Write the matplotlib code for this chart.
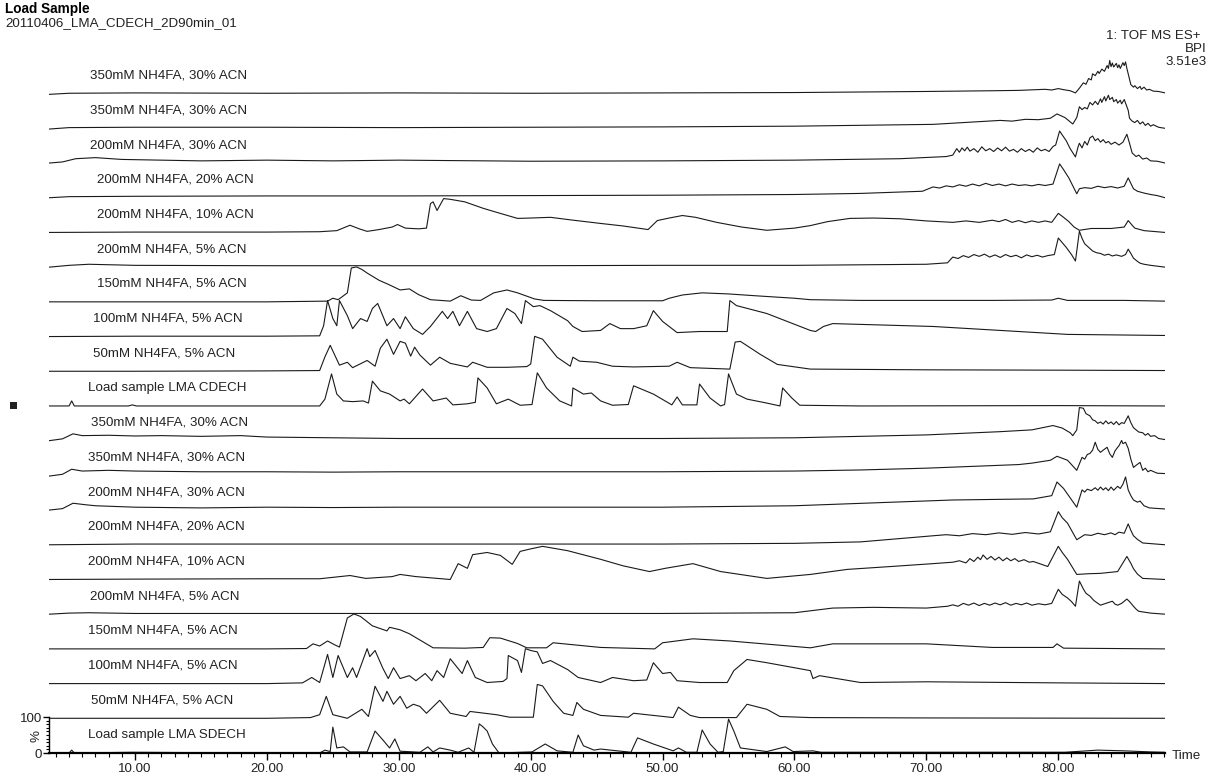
import matplotlib
matplotlib.use("Agg")
from matplotlib import pyplot as plt
from matplotlib.patches import Rectangle
import numpy as np

plt.rcParams['font.family'] = ['Liberation Sans', 'DejaVu Sans']

# ---- data: (time [min], relative intensity [%]) ----
labels = [
    "350mM NH4FA, 30% ACN", "350mM NH4FA, 30% ACN", "200mM NH4FA, 30% ACN",
    "200mM NH4FA, 20% ACN", "200mM NH4FA, 10% ACN", "200mM NH4FA, 5% ACN",
    "150mM NH4FA, 5% ACN", "100mM NH4FA, 5% ACN", "50mM NH4FA, 5% ACN",
    "Load sample LMA CDECH",
    "350mM NH4FA, 30% ACN", "350mM NH4FA, 30% ACN", "200mM NH4FA, 30% ACN",
    "200mM NH4FA, 20% ACN", "200mM NH4FA, 10% ACN", "200mM NH4FA, 5% ACN",
    "150mM NH4FA, 5% ACN", "100mM NH4FA, 5% ACN", "50mM NH4FA, 5% ACN",
    "Load sample LMA SDECH",
]

trace_01 = [(3.5,-2),(5,1),(10,2),(20,1),(30,2),(40,1),(50,2),(60,3),(70,6),(75,8),(77,9),(79.0,12),
            (79.5,10),(80,14),(80.4,11),(80.9,8),(81.3,2),(81.6,15),(81.9,30),(82.1,26),(82.3,42),
            (82.5,38),(82.6,55),(82.8,50),(83.0,62),(83.1,56),(83.3,68),(83.5,62),(83.7,78),(83.8,70),
            (83.9,92),(84.0,75),(84.1,85),(84.2,74),(84.4,84),(84.5,72),(84.6,80),(84.7,70),(84.9,86),
            (85.0,78),(85.1,88),(85.2,70),(85.4,40),(85.5,25),(85.7,18),(85.8,22),(86.0,14),(86.2,20),
            (86.3,12),(86.5,18),(86.7,10),(86.9,12),(87.2,7),(87.6,6),(88.1,2)]
trace_02 = [(3.5,-2),(5,2),(10,3),(20,3),(30,2),(40,3),(50,4),(60,6),(70.5,11),(75.6,22),(76.5,20),
            (77.5,25),(78.5,24),(79.4,28),(79.9,40),(80.5,30),(81.1,12),(81.4,30),(81.6,60),(81.8,52),
            (82.0,58),(82.2,54),(82.4,72),(82.6,65),(82.8,75),(83.0,66),(83.2,82),(83.3,72),(83.5,88),
            (83.6,76),(83.8,92),(83.9,80),(84.1,86),(84.2,74),(84.4,80),(84.5,70),(84.7,78),(84.8,68),
            (85.0,80),(85.1,70),(85.3,50),(85.4,28),(85.6,20),(85.8,16),(86.0,22),(86.2,12),(86.4,18),
            (86.6,8),(86.8,14),(87.0,6),(87.2,10),(87.6,3),(88.1,0)]
trace_03 = [(3.5,0),(4.5,3),(5.5,12),(7,15),(9,10),(12,8),(15,6),(20,8),(25,6),(30,8),(40,5),(50,6),
            (60,8),(68,12),(71.5,18),(72.0,22),(72.3,40),(72.5,30),(72.7,42),(72.9,34),(73.1,44),
            (73.3,33),(73.6,40),(73.9,30),(74.2,45),(74.5,34),(74.8,40),(75.1,32),(75.4,42),(75.7,34),
            (76.0,44),(76.3,33),(76.6,38),(76.9,30),(77.2,40),(77.5,32),(77.8,38),(78.1,30),(78.4,42),
            (78.7,34),(79.0,38),(79.3,32),(79.6,46),(79.8,50),(80.1,89),(80.3,78),(80.6,62),(80.9,40),
            (81.3,17),(81.5,45),(81.6,55),(81.8,42),(82.0,60),(82.2,50),(82.4,70),(82.6,75),(82.8,62),
            (83.0,68),(83.2,58),(83.4,65),(83.6,56),(83.8,60),(84.0,52),(84.3,58),(84.6,50),(84.9,58),
            (85.2,80),(85.4,55),(85.6,28),(85.9,18),(86.1,22),(86.4,11),(86.7,14),(87,6),(87.5,5),
            (88.1,0)]
trace_04 = [(3.5,0),(5,3),(10,4),(20,5),(30,5),(40,6),(50,7),(60,9),(65,12),(69.7,18),(70.5,30),
            (71,27),(71.5,33),(72,30),(72.5,36),(73,32),(73.5,38),(74,33),(74.5,40),(75,34),(75.5,38),
            (76,33),(76.5,38),(77,34),(77.5,36),(78,33),(78.5,37),(79,34),(79.6,38),(80.1,94),
            (80.4,78),(80.8,55),(81.4,11),(81.6,25),(82,28),(82.5,26),(83,32),(83.5,28),(84,31),
            (84.5,27),(85,32),(85.3,55),(85.5,40),(85.7,25),(86.0,18),(86.5,13),(87,9),(87.5,6),
            (88.1,0)]
trace_05 = [(3.5,0),(10,1),(20,1),(24,2),(25.3,5),(26.3,20),(27,10),(27.6,3),(28.5,8),(29.5,15),
            (29.9,22),(30.5,12),(31.5,10),(32.1,12),(32.4,80),(32.6,85),(32.9,61),(33.4,94),(33.9,92),
            (35,85),(36.4,67),(37.5,55),(39.0,39),(40,40),(41.5,42),(43,35),(45.3,25),(47,18),(48.9,8),
            (49.6,33),(50.5,40),(51.5,47),(52.5,42),(54.1,28),(56,15),(57.9,6),(60,12),(61.2,19),
            (62.5,30),(64.2,39),(66,40),(68,38),(70,32),(72,28),(73,32),(74,28),(75,34),(75.5,30),
            (76,36),(76.5,28),(77,33),(77.5,27),(78,32),(78.5,28),(79,32),(79.5,28),(80,53),(80.4,42),
            (80.8,30),(81.2,15),(81.6,6),(82.5,11),(84,11),(85,15),(85.3,33),(85.6,20),(85.8,12),
            (86.5,5),(88.1,0)]
trace_06 = [(3.5,0),(5,5),(6.5,8),(10,5),(20,4),(30,4),(40,4),(50,5),(60,5),(70,8),(71.6,12),(72,28),
            (72.4,24),(72.8,32),(73.2,27),(73.6,35),(74,30),(74.4,36),(74.8,28),(75.2,34),(75.6,27),
            (76,35),(76.4,29),(76.8,33),(77.2,26),(77.6,34),(78,29),(78.4,33),(78.8,28),(79.2,32),
            (79.7,35),(80,81),(80.3,68),(80.6,55),(81.0,35),(81.3,17),(81.6,100),(81.8,80),(82.0,65),
            (82.3,55),(82.6,45),(82.9,40),(83.2,38),(83.5,33),(83.8,36),(84.1,31),(84.4,34),(84.8,30),
            (85.1,35),(85.3,50),(85.5,38),(85.7,25),(86.0,16),(86.2,11),(86.5,8),(87,5),(88.1,0)]
trace_07 = [(3.5,0),(10,0),(20,0),(24.6,2),(25,10),(25.4,6),(25.7,14),(26.1,25),(26.4,94),(26.8,97),
            (27.2,90),(27.6,80),(28.5,60),(29.3,47),(30.1,33),(30.8,36),(31.5,20),(32.4,6),(33.9,2),
            (34.7,17),(35.5,5),(36.2,4),(37.2,25),(38.2,33),(39.0,25),(40.3,8),(41,4),(45,3),(50,3),
            (50.5,10),(51.5,19),(53.0,25),(55,22),(57,17),(60,10),(61.2,6),(65,4),(70,4),(75,4),
            (79.5,5),(80,10),(80.7,4),(85,4),(88.1,2)]
trace_08 = [(3.5,0),(10,1),(20,1),(24.0,2),(24.3,30),(24.6,100),(25.0,50),(25.3,30),(25.5,100),
            (26.1,58),(26.5,22),(27.1,50),(27.6,42),(28.0,78),(28.4,92),(29.1,30),(29.6,50),(30.1,22),
            (30.5,55),(31.1,22),(31.8,6),(32.4,28),(33.3,70),(33.7,50),(34.1,70),(34.6,30),(35.2,70),
            (35.9,22),(36.7,14),(37.4,22),(38.2,78),(38.8,64),(39.3,36),(39.6,100),(40.2,83),(40.7,86),
            (41.5,72),(42.8,44),(43.2,28),(43.9,14),(45.3,17),(46.0,36),(46.8,22),(47.8,22),(48.8,30),
            (49.3,72),(50.0,42),(51.1,11),(52.8,14),(54.9,14),(55.1,100),(55.6,86),(57.9,64),(61.2,17),
            (61.6,14),(62.2,28),(62.9,36),(70.5,28),(80.7,6),(88.1,3)]
trace_09 = [(3.5,0),(10,0),(20,1),(24.0,2),(24.4,40),(24.8,72),(25.5,17),(26.1,25),(26.5,10),
            (27.6,30),(28.2,14),(28.6,64),(29.1,89),(29.6,47),(30.1,83),(30.5,78),(30.9,42),(31.2,67),
            (31.6,45),(32.4,17),(33.1,39),(33.9,22),(35.2,12),(35.6,25),(36.7,11),(38.2,11),(39.7,13),
            (40.0,20),(40.3,97),(40.9,89),(42.0,39),(43.0,14),(43.2,39),(43.7,28),(45.0,25),(46.2,14),
            (47.8,12),(50.5,14),(51.1,25),(52.1,10),(55.1,6),(55.5,81),(55.9,83),(57.4,47),(58.7,19),
            (61.2,6),(70,4),(80,3),(88.1,2)]
trace_10 = [(3.5,0),(5.0,0),(5.2,14),(5.4,0),(9.5,0),(9.8,3),(10.1,0),(20,0),(24.0,0),(24.4,19),
            (24.9,89),(25.3,33),(25.8,14),(26.5,12),(27.3,14),(27.7,8),(28.0,69),(28.6,42),(29.3,33),
            (30.1,14),(30.4,19),(30.8,6),(31.8,47),(32.6,14),(33.6,22),(34.1,3),(35.2,6),(35.8,10),
            (36.0,78),(36.7,50),(37.4,6),(38.3,19),(39.2,2),(40.1,4),(40.5,92),(41.2,50),(42.2,14),
            (43.1,0),(43.2,50),(44.0,33),(44.6,36),(45.3,14),(46.2,2),(47.4,4),(47.8,56),(49.3,33),
            (50.7,3),(51.1,25),(51.5,3),(52.6,3),(52.8,61),(53.6,22),(54.4,0),(54.7,4),(55.0,89),
            (55.6,33),(56.4,19),(57.9,8),(58.9,0),(59.1,50),(59.8,22),(60.4,2),(65,0),(80,1),(88.1,0)]
trace_11 = [(3.5,0),(4.5,5),(5.3,19),(6,14),(8,15),(10,13),(12,14),(15,12),(18,14),(20,10),(25,8),
            (30,6),(40,6),(50,6),(60,8),(65,12),(70,16),(75.6,25),(78,30),(79.6,42),(80.3,35),
            (80.9,22),(81.1,14),(81.4,30),(81.6,92),(81.9,90),(82.1,75),(82.4,69),(82.6,58),(82.8,55),
            (83.0,48),(83.2,52),(83.4,46),(83.6,55),(83.8,47),(84.0,52),(84.2,45),(84.4,53),(84.6,44),
            (84.8,50),(85.0,48),(85.3,69),(85.5,50),(85.7,36),(85.9,30),(86.1,24),(86.4,22),(86.6,15),
            (86.8,20),(87.0,12),(87.3,14),(87.6,6),(88.1,3)]
trace_12 = [(3.5,-2),(4.5,3),(5.2,17),(6,12),(8,14),(10,12),(15,10),(20,10),(25,9),(30,10),(40,10),
            (50,10),(60,12),(65,15),(70,20),(75.6,28),(77,30),(78,34),(79.4,42),(79.9,53),(80.7,42),
            (81.4,14),(81.8,50),(82.0,45),(82.2,58),(82.4,61),(82.6,70),(82.8,92),(83.0,72),(83.2,64),
            (83.4,70),(83.7,78),(83.9,60),(84.1,50),(84.3,68),(84.5,78),(84.6,82),(84.8,97),(84.9,88),
            (85.1,92),(85.3,75),(85.5,45),(85.7,22),(85.9,28),(86.2,36),(86.4,14),(86.6,20),(86.8,10),
            (87,14),(87.5,6),(88.1,5)]
trace_13 = [(3.5,0),(4.5,4),(5.3,19),(6.2,15),(7,12),(10,8),(15,6),(20,8),(25,7),(30,8),(40,8),
            (50,8),(60,12),(66,20),(72,28),(76,30),(78.1,31),(79.5,40),(79.9,78),(80.4,60),(81.4,8),
            (81.8,56),(82.0,50),(82.2,58),(82.5,54),(82.8,62),(83.0,55),(83.2,64),(83.4,56),(83.6,62),
            (83.8,54),(84.0,64),(84.2,55),(84.5,66),(84.7,60),(84.9,72),(85.1,92),(85.3,56),(85.5,40),
            (85.7,28),(86.0,22),(86.2,25),(86.5,12),(86.9,6),(88.1,3)]
trace_14 = [(3.5,0),(10,2),(20,2),(30,2),(40,2),(50,2),(60,4),(65,8),(70.5,25),(71.5,28),(72.5,25),
            (73.5,31),(74.5,28),(75.5,33),(76.5,29),(77.5,34),(78.5,30),(79.4,36),(80,92),(80.3,75),
            (80.7,60),(81.4,14),(82,28),(82.5,26),(83,32),(83.5,28),(84,33),(84.3,28),(84.6,35),
            (85.0,32),(85.3,58),(85.5,40),(85.7,25),(86.0,15),(86.4,5),(88.1,0)]
trace_15 = [(3.5,0),(10,1),(20,2),(24,2),(26.3,11),(27.5,3),(29.5,8),(30.1,14),(31.3,8),(33.9,0),
            (34.5,44),(35.2,31),(35.6,69),(36.7,75),(37.7,67),(38.6,42),(39.2,78),(40,85),(40.9,92),
            (42.8,80),(45.3,56),(47,38),(49.0,22),(50.2,31),(52.3,44),(54.4,22),(57.9,3),(61.2,14),
            (64,28),(67.3,36),(70.5,44),(72,48),(72.5,52),(73,46),(73.3,58),(73.6,50),(73.9,62),
            (74.1,55),(74.3,68),(74.6,56),(74.9,64),(75.2,54),(75.5,62),(75.8,52),(76.1,60),(76.4,52),
            (76.7,58),(77,50),(77.4,55),(77.8,48),(78.1,50),(78.5,45),(79.2,36),(80,92),(80.3,75),
            (80.7,56),(81.4,14),(82.3,16),(83.2,17),(84.5,22),(85.2,64),(85.5,45),(85.7,30),(86.0,15),
            (86.4,3),(88.1,0)]
trace_16 = [(3.5,0),(5,3),(6.5,4),(10,2),(20,2),(30,2),(40,2),(50,2),(60,4),(62.9,17),(66,19),
            (70,17),(71.6,22),(72,26),(72.4,22),(72.8,30),(73.2,25),(73.6,31),(74,24),(74.4,30),
            (74.8,25),(75.2,31),(75.6,26),(76,32),(76.4,25),(76.8,30),(77.2,26),(77.6,31),(78,25),
            (78.5,29),(79,26),(79.5,30),(80,69),(80.3,55),(80.7,45),(81.0,35),(81.3,22),(81.6,92),
            (81.9,70),(82.1,58),(82.4,50),(82.7,38),(83.0,30),(83.2,25),(83.6,30),(84.1,36),(84.3,28),
            (84.5,25),(84.8,30),(85.2,42),(85.4,35),(85.7,22),(85.9,14),(86.1,8),(87,3),(88.1,0)]
trace_17 = [(3.5,0),(10,0),(20,0),(23.0,1),(23.5,14),(24.0,8),(24.6,22),(25.1,12),(25.5,5),
            (26.1,86),(26.6,97),(27.1,90),(28.0,64),(29.1,50),(29.3,60),(30.1,53),(30.8,42),(32.6,3),
            (35,2),(36.4,4),(36.9,31),(37.7,30),(39.0,15),(39.7,3),(41.2,3),(41.7,17),(45.3,4),
            (49.4,0),(50.0,17),(52.3,28),(55.1,22),(61.2,3),(62.9,14),(65,14),(70,14),(75,4),
            (79.6,4),(79.9,14),(80.4,2),(88.1,0)]
trace_18 = [(3.5,0),(10,0),(20,0),(22.7,2),(23.4,17),(24.0,3),(24.6,81),(25.0,17),(25.4,78),
            (26.1,17),(26.5,44),(26.8,17),(27.1,47),(27.6,97),(27.8,75),(28.2,92),(28.8,42),(29.2,14),
            (29.6,44),(30.1,14),(30.8,22),(31.3,8),(32.0,28),(32.5,8),(32.9,36),(33.4,17),(33.9,69),
            (34.8,28),(35.2,64),(35.8,17),(36.7,3),(37.9,6),(38.2,14),(38.3,78),(39.0,64),(39.3,31),
            (39.6,97),(40.0,92),(40.5,88),(40.9,56),(41.5,64),(42.8,39),(43.6,17),(45.3,3),(46.2,17),
            (47.8,8),(48.8,10),(49.3,58),(50.0,28),(50.6,31),(51.1,8),(52.8,3),(54.9,3),(55.4,36),
            (56.4,67),(57.9,58),(61.2,36),(61.4,14),(61.9,22),(65.0,3),(70,5),(80,2),(88.1,0)]
trace_19 = [(3.5,0),(10,0),(20,0),(23.3,2),(24.0,10),(24.5,61),(25.0,10),(26.1,0),(27.2,25),
            (27.7,5),(28.2,89),(28.8,47),(29.1,75),(29.6,39),(30.1,61),(30.6,28),(31.1,39),(31.6,33),
            (32.1,14),(33.1,50),(33.9,14),(35.1,5),(35.4,19),(37.4,10),(38.4,3),(40.2,3),(40.5,94),
            (40.9,90),(41.7,47),(42.5,14),(43.2,8),(43.5,44),(44.0,25),(45.3,8),(47.4,3),(47.8,14),
            (49.3,8),(50.8,2),(51.2,31),(52.1,8),(52.8,2),(55.6,2),(56.4,39),(57.9,25),(58.9,5),
            (61.2,2),(70,1),(88.1,0)]
trace_20 = [(3.5,0),(5.0,0),(5.2,8),(5.4,0),(9.8,2),(20,0),(24.0,0),(24.4,8),(24.8,4),(25.0,72),
            (25.3,14),(25.8,17),(26.3,3),(27.6,3),(28.2,61),(28.8,36),(29.3,14),(29.7,39),(30.1,5),
            (31.6,2),(32.2,17),(32.6,3),(33.1,14),(33.9,8),(34.5,2),(35.3,14),(35.7,2),(36.1,81),
            (36.4,72),(36.7,61),(37.1,25),(37.6,0),(40.1,3),(41.1,25),(42.0,6),(43.2,2),(43.6,50),
            (44.0,20),(44.8,8),(45.3,11),(47.6,2),(48.1,42),(49.3,25),(50.8,6),(51.2,14),(51.8,2),
            (52.6,2),(53.0,64),(53.6,25),(54.2,2),(54.6,4),(55.0,94),(55.4,61),(55.9,14),(57.9,4),
            (59.3,17),(59.9,4),(61.4,6),(62,2),(80.5,2),(83,8),(85,6),(87,3),(88.1,2)]

traces = [trace_01, trace_02, trace_03, trace_04, trace_05, trace_06, trace_07, trace_08,
          trace_09, trace_10, trace_11, trace_12, trace_13, trace_14, trace_15, trace_16,
          trace_17, trace_18, trace_19, trace_20]

# label left edge (minutes) for each trace label
label_x = [6.6, 6.6, 6.6, 7.1, 7.1, 7.1, 7.1, 6.8, 6.8, 6.4,
           6.7, 6.4, 6.4, 6.4, 6.4, 6.6, 6.4, 6.4, 6.7, 6.4]

# ---- layout ----
W, H = 1210, 773
STEP = 96.4          # vertical offset between traces (in % units)
T0, T1 = 3.48, 88.09
ax_left, ax_right, ax_bottom, ax_top = 49, 1165, 753, 45

fig = plt.figure(figsize=(W / 100, H / 100), dpi=100)
ax = fig.add_axes([ax_left / W, (H - ax_bottom) / H,
                   (ax_right - ax_left) / W, (ax_bottom - ax_top) / H])
ymax = (ax_bottom - ax_top) / 36 * 100
ax.set_xlim(T0, T1)
ax.set_ylim(0, ymax)

n = len(traces)
for k, (tr, lab) in enumerate(zip(traces, labels)):
    off = (n - 1 - k) * STEP
    arr = np.array(tr)
    ax.plot(arr[:, 0], arr[:, 1] + off, color='#1a1a1a', lw=0.8)
    ax.text(label_x[k], off + 50, lab, fontsize=9.6, color='#222222', va='center', ha='left')

for s in ['top', 'right']:
    ax.spines[s].set_visible(False)
ax.spines['left'].set_bounds(0, 100)
ax.spines['bottom'].set_linewidth(1.6)
ax.spines['left'].set_linewidth(1.0)

ax.set_xticks(np.arange(10, 81, 10))
ax.set_xticklabels([f"{v:.2f}" for v in np.arange(10, 81, 10)], fontsize=9.6, color='#222222')
ax.set_xticks(np.arange(4, 89, 1), minor=True)
ax.tick_params(axis='x', which='major', direction='out', length=5, width=1, pad=2)
ax.tick_params(axis='x', which='minor', direction='out', length=3, width=0.8)

ax.set_yticks([0, 100])
ax.set_yticklabels(['0', '100'], fontsize=9.6, color='#222222')
ax.set_yticks(np.arange(10, 100, 10), minor=True)
ax.tick_params(axis='y', which='major', direction='out', length=4, width=1, pad=1)
ax.tick_params(axis='y', which='minor', direction='out', length=2, width=0.8)

def fx(px):
    return px / W

def fy(py):
    return 1 - py / H

fig.text(fx(36), fy(736), '%', rotation=90, fontsize=9.6, ha='center', va='center', color='#222222')
fig.text(fx(1172), fy(756), 'Time', fontsize=9.6, ha='left', va='center', color='#222222')

fig.text(fx(5), fy(9), 'Load Sample', fontsize=9.8, fontweight='bold', ha='left', va='center')
fig.text(fx(5), fy(23), '20110406_LMA_CDECH_2D90min_01', fontsize=9.6, ha='left', va='center',
         color='#222222')
fig.text(fx(1200), fy(36), '1: TOF MS ES+', fontsize=9.6, ha='right', va='center', color='#222222')
fig.text(fx(1207), fy(49), 'BPI', fontsize=9.6, ha='right', va='center', color='#222222')
fig.text(fx(1207), fy(62), '3.51e3', fontsize=9.6, ha='right', va='center', color='#222222')

fig.add_artist(Rectangle((fx(10), fy(409)), 7 / W, 7 / H, transform=fig.transFigure,
                         color='#222222', lw=0))

fig.savefig('out.png', dpi=100)
